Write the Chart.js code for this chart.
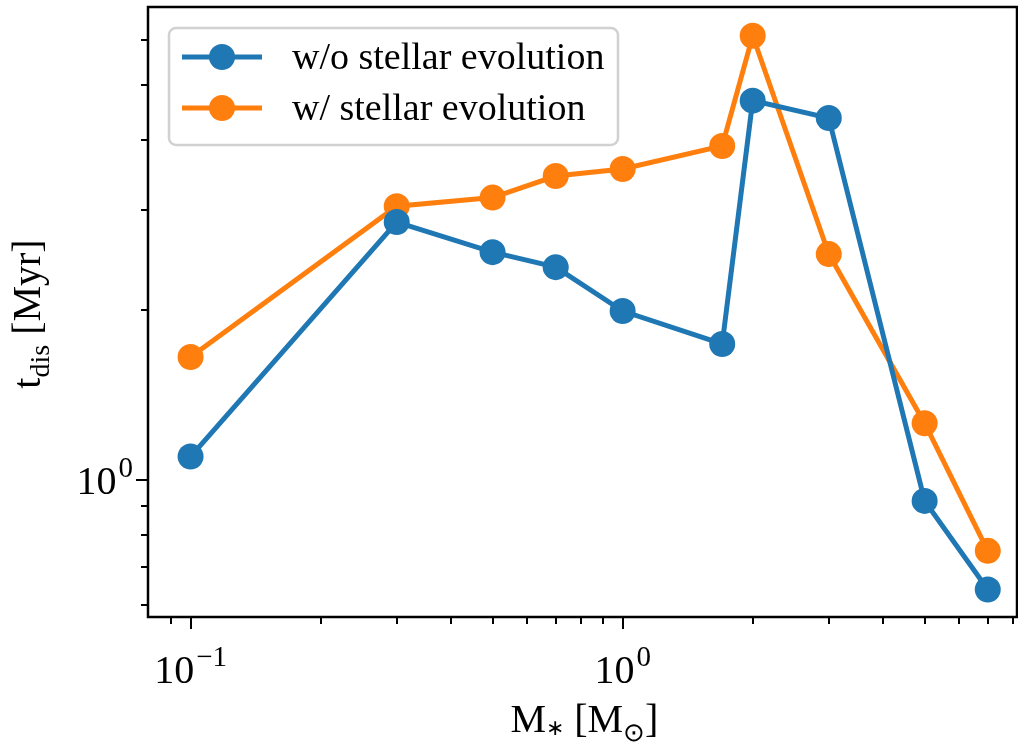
<!DOCTYPE html>
<html lang="en">
<head>
<meta charset="utf-8">
<script src="https://cdn.jsdelivr.net/npm/chart.js"></script>
<style>
  body {
    margin: 0;
    background-color: #fff;
  }
  #wrap {
    width: 1018px;
    height: 742px;
  }
</style>
</head>
<body>
<div id="wrap"><canvas id="tdisChart" width="1018" height="742"></canvas></div>
<script>
  // stellar mass [Msun]
  var masses = [0.1, 0.3, 0.5, 0.7, 1.0, 1.7, 2.0, 3.0, 5.0, 7.0];
  // dissolution time [Myr]
  var tdisNoEvol = [1.10, 2.86, 2.53, 2.38, 1.99, 1.74, 4.69, 4.37, 0.918, 0.640];
  var tdisEvol = [1.65, 3.05, 3.16, 3.45, 3.55, 3.90, 6.11, 2.51, 1.26, 0.749];
  var seriesLabels = ['w/o stellar evolution', 'w/ stellar evolution'];

  // ticks (log axes)
  var xMajorTicks = [0.1, 1];
  var xMinorTicks = [0.09, 0.2, 0.3, 0.4, 0.5, 0.6, 0.7, 0.8, 0.9, 2, 3, 4, 5, 6, 7, 8];
  var yMajorTicks = [1];
  var yMinorTicks = [0.6, 0.7, 0.8, 0.9, 2, 3, 4, 5, 6];
  var xTickLabels = [['10', '\u22121'], ['10', '0']];
  var yTickLabels = [['10', '0']];

  var FONT = '"Liberation Serif", "Times New Roman", serif';

  function drawPow(ctx, base, exp, x, y, align) {
    ctx.font = '40px ' + FONT;
    var wb = ctx.measureText(base).width;
    ctx.font = '29px ' + FONT;
    var we = ctx.measureText(exp).width;
    var start = align === 'right' ? x - wb - we - 2 : x - (wb + we + 2) / 2;
    ctx.textAlign = 'left';
    ctx.textBaseline = 'alphabetic';
    ctx.font = '40px ' + FONT;
    ctx.fillText(base, start, y);
    ctx.font = '29px ' + FONT;
    ctx.fillText(exp, start + wb + 2, y - 17);
  }

  // draw pieces of text: [text, size, baseline shift]
  function drawRuns(ctx, runs, x, y) {
    var total = 0;
    runs.forEach(function (r) {
      ctx.font = r[1] + 'px ' + FONT;
      total += ctx.measureText(r[0]).width;
    });
    var cx = x - total / 2;
    ctx.textAlign = 'left';
    ctx.textBaseline = 'alphabetic';
    runs.forEach(function (r) {
      ctx.font = r[1] + 'px ' + FONT;
      ctx.fillText(r[0], cx, y + r[2]);
      cx += ctx.measureText(r[0]).width;
    });
  }

  var mplAxes = {
    id: 'mplAxes',
    afterDraw: function (chart) {
      var ctx = chart.ctx;
      var a = chart.chartArea;
      var xs = chart.scales.x;
      var ys = chart.scales.y;
      ctx.save();
      ctx.strokeStyle = '#000';
      ctx.fillStyle = '#000';
      ctx.lineWidth = 2;

      function seg(x1, y1, x2, y2) {
        ctx.beginPath();
        ctx.moveTo(x1, y1);
        ctx.lineTo(x2, y2);
        ctx.stroke();
      }
      xMinorTicks.forEach(function (v) {
        var p = Math.round(xs.getPixelForValue(v));
        seg(p, a.bottom, p, a.bottom + 7);
      });
      xMajorTicks.forEach(function (v) {
        var p = Math.round(xs.getPixelForValue(v));
        seg(p, a.bottom, p, a.bottom + 12);
      });
      yMinorTicks.forEach(function (v) {
        var p = Math.round(ys.getPixelForValue(v));
        seg(a.left, p, a.left - 7, p);
      });
      yMajorTicks.forEach(function (v) {
        var p = Math.round(ys.getPixelForValue(v));
        seg(a.left, p, a.left - 12, p);
      });

      // spines
      ctx.lineWidth = 2.5;
      ctx.strokeRect(a.left, a.top, a.right - a.left, a.bottom - a.top);

      // tick labels
      xMajorTicks.forEach(function (v, i) {
        drawPow(ctx, xTickLabels[i][0], xTickLabels[i][1], xs.getPixelForValue(v), a.bottom + 66, 'center');
      });
      yMajorTicks.forEach(function (v, i) {
        drawPow(ctx, yTickLabels[i][0], yTickLabels[i][1], a.left - 15, ys.getPixelForValue(v) + 14, 'right');
      });

      // axis labels
      drawRuns(ctx, [['M', 40, 0], ['\u2217', 22, 3], [' [M', 40, 0], ['\u2299', 26, 9], [']', 40, 0]],
        (a.left + a.right) / 2 + 2, 732);
      ctx.save();
      ctx.translate(40, (a.top + a.bottom) / 2 + 2);
      ctx.rotate(-Math.PI / 2);
      drawRuns(ctx, [['t', 40, 0], ['dis', 28, 9], [' [Myr]', 40, 0]], 0, 0);
      ctx.restore();

      // legend
      var lx = 169, ly = 28, lw = 449, lh = 117;
      ctx.beginPath();
      ctx.roundRect(lx, ly, lw, lh, 7);
      ctx.fillStyle = 'rgba(255,255,255,0.8)';
      ctx.fill();
      ctx.strokeStyle = 'rgba(204,204,204,0.9)';
      ctx.lineWidth = 2.5;
      ctx.stroke();
      var rows = [57, 108];
      chart.data.datasets.forEach(function (ds, i) {
        var ry = rows[i];
        ctx.strokeStyle = ds.borderColor;
        ctx.lineWidth = 5;
        seg(182, ry, 262, ry);
        ctx.beginPath();
        ctx.arc(222, ry, 13, 0, Math.PI * 2);
        ctx.fillStyle = ds.backgroundColor;
        ctx.fill();
        ctx.fillStyle = '#000';
        ctx.font = '38px ' + FONT;
        ctx.textAlign = 'left';
        ctx.textBaseline = 'alphabetic';
        ctx.fillText(ds.label, 292, ry + 12);
      });
      ctx.restore();
    }
  };

  function toPoints(ys) {
    return masses.map(function (m, i) { return { x: m, y: ys[i] }; });
  }

  var ctx = document.getElementById('tdisChart').getContext('2d');
  var tdisChart = new Chart(ctx, {
    type: 'line',
    data: {
      datasets: [{
        label: seriesLabels[0],
        data: toPoints(tdisNoEvol),
        borderColor: '#1f77b4',
        backgroundColor: '#1f77b4',
        borderWidth: 5,
        pointRadius: 13,
        pointBorderWidth: 0,
        tension: 0
      }, {
        label: seriesLabels[1],
        data: toPoints(tdisEvol),
        borderColor: '#ff7f0e',
        backgroundColor: '#ff7f0e',
        borderWidth: 5,
        pointRadius: 13,
        pointBorderWidth: 0,
        tension: 0
      }]
    },
    options: {
      responsive: false,
      devicePixelRatio: 1,
      animation: false,
      events: [],
      layout: {
        autoPadding: false,
        padding: { top: 7, right: 1, left: 0, bottom: 0 }
      },
      plugins: {
        legend: { display: false },
        tooltip: { enabled: false }
      },
      scales: {
        x: {
          type: 'logarithmic',
          min: 0.0797,
          max: 8.18,
          ticks: { display: false },
          grid: { display: false },
          border: { display: false },
          afterFit: function (s) { s.height = 125; }
        },
        y: {
          type: 'logarithmic',
          min: 0.572,
          max: 6.87,
          ticks: { display: false },
          grid: { display: false },
          border: { display: false },
          afterFit: function (s) { s.width = 148; }
        }
      }
    },
    plugins: [mplAxes]
  });
</script>
</body>
</html>
